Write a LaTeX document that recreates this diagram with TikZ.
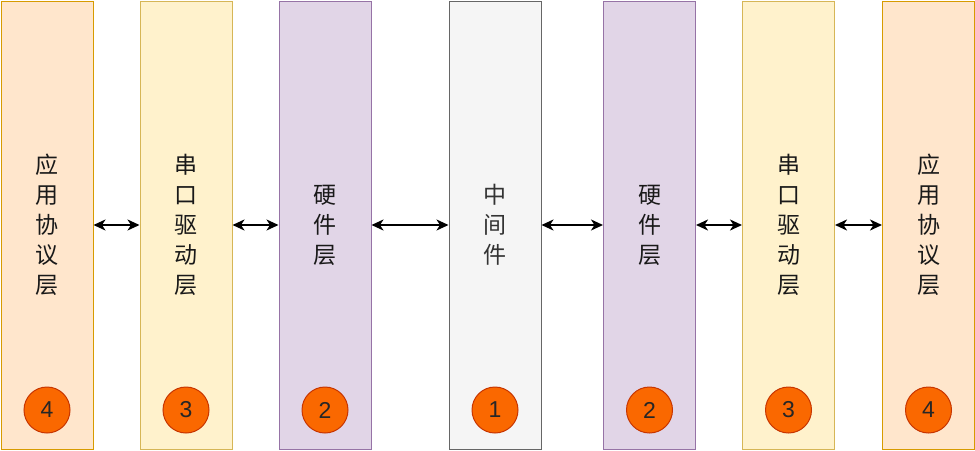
\documentclass[tikz,border=0pt]{standalone}
\usepackage{fontspec}
\newfontfamily\cjk{Noto Sans CJK SC}
\setmainfont{Liberation Sans}
\usetikzlibrary{arrows.meta}
\definecolor{orfill}{HTML}{FFE6CC}\definecolor{orline}{HTML}{D79B00}
\definecolor{yefill}{HTML}{FFF2CC}\definecolor{yeline}{HTML}{D6B656}
\definecolor{pufill}{HTML}{E1D5E7}\definecolor{puline}{HTML}{9673A6}
\definecolor{grfill}{HTML}{F5F5F5}\definecolor{grline}{HTML}{666666}
\definecolor{cifill}{HTML}{FA6800}\definecolor{ciline}{HTML}{C73500}
\definecolor{txtgray}{HTML}{333333}
\tikzset{
  layer/.style={draw, line width=1pt, minimum width=92pt, minimum height=448pt, inner sep=0pt},
  orbox/.style={layer, fill=orfill, draw=orline},
  yebox/.style={layer, fill=yefill, draw=yeline},
  pubox/.style={layer, fill=pufill, draw=puline},
  grbox/.style={layer, fill=grfill, draw=grline},
  lbl/.style={font=\cjk\fontsize{23}{30}\selectfont, align=center, text width=30pt, text=black!90},
  badge/.style={circle, draw=ciline, fill=cifill, line width=1pt, minimum size=46pt, inner sep=0pt, font=\fontsize{23}{26}\selectfont, text=black!85},
  link/.style={{Stealth[length=12pt,width=11pt,inset=3.5pt]}-{Stealth[length=12pt,width=11pt,inset=3.5pt]}, line width=1.8pt, black}
}
\begin{document}
\begin{tikzpicture}[x=1pt,y=-1pt]
\useasboundingbox (0,0) rectangle (975,450);
\node[orbox] (b1) at (47,225) {};
\node[yebox] (b2) at (186,225) {};
\node[pubox] (b3) at (325,225) {};
\node[grbox] (b4) at (495,225) {};
\node[pubox] (b5) at (649.5,225) {};
\node[yebox] (b6) at (788.5,225) {};
\node[orbox] (b7) at (928.5,225) {};
\node[lbl] (t1) at (b1) {应\\用\\协\\议\\层};
\node[lbl] (t2) at (b2) {串\\口\\驱\\动\\层};
\node[lbl] (t3) at (b3) {硬\\件\\层};
\node[lbl, text=txtgray] (t4) at (b4) {中\\间\\件};
\node[lbl] (t5) at (b5) {硬\\件\\层};
\node[lbl] (t6) at (b6) {串\\口\\驱\\动\\层};
\node[lbl] (t7) at (b7) {应\\用\\协\\议\\层};
\node[badge] (c1) at (47,410) {4};
\node[badge] (c2) at (186,410) {3};
\node[badge] (c3) at (325,410) {2};
\node[badge] (c4) at (495,410) {1};
\node[badge] (c5) at (649.5,410) {2};
\node[badge] (c6) at (788.5,410) {3};
\node[badge] (c7) at (928.5,410) {4};
\draw[link] (b1.east) -- (b2.west);
\draw[link] (b2.east) -- (b3.west);
\draw[link] (b3.east) -- (b4.west);
\draw[link] (b4.east) -- (b5.west);
\draw[link] (b5.east) -- (b6.west);
\draw[link] (b6.east) -- (b7.west);
\end{tikzpicture}
\end{document}
